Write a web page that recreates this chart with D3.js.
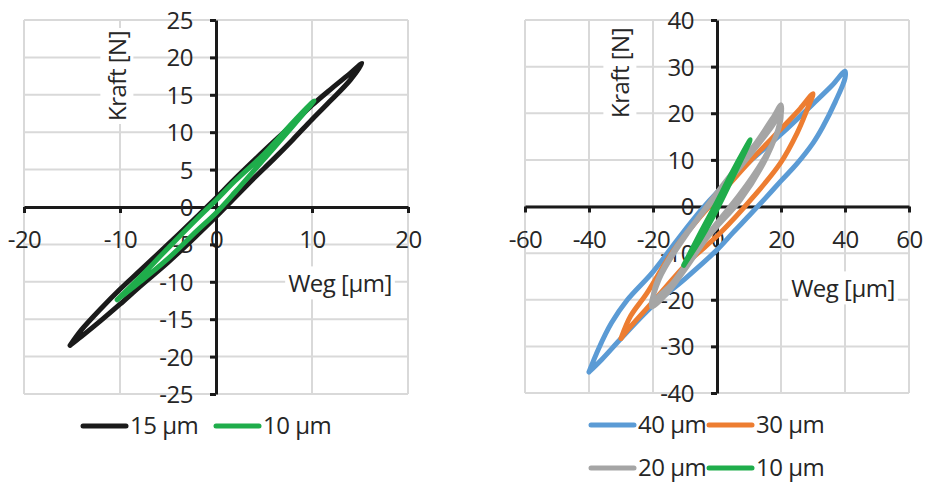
<!DOCTYPE html>
<html>
<head>
<meta charset="utf-8">
<script src="https://cdn.jsdelivr.net/npm/d3@7"></script>
<style>
  html, body { margin: 0; padding: 0; background: #fff; }
  svg { display: block; font-family: "Open Sans", "Noto Sans", sans-serif; }
  .tick text { font-size: 24px; fill: #262626; }
</style>
</head>
<body>
<svg id="chart" width="927" height="483"></svg>
<script>
// ---- Left panel: 15 µm and 10 µm hysteresis loops ----
const leftXTicks = [-20, -10, 0, 10, 20];
const leftYTicks = [-25, -20, -15, -10, -5, 0, 5, 10, 15, 20, 25];

// loops as [Weg µm, Kraft N], rising branch then falling branch
const loop15 = [
  [-15.2, -18.5], [-14, -16.4], [-12, -13.6], [-10, -11.0], [-8, -8.6], [-5, -5.0],
  [-2, -1.3], [0, 1.2], [2, 3.8], [5, 7.5], [8, 11.1], [10, 13.6], [12, 15.8],
  [14, 17.9], [15.2, 19.2],
  [14, 17.0], [12, 14.3], [10, 11.7], [8, 9.0], [6, 6.4], [4, 3.9], [2, 1.3],
  [0, -1.3], [-2, -3.8], [-5, -7.4], [-8, -10.7], [-10, -13.0], [-12, -15.2],
  [-14, -17.3], [-15.2, -18.5]
];
const loop10L = [
  [-10.3, -12.4], [-8, -9.5], [-5, -5.5], [-2, -1.6], [0, 0.9], [2, 3.5], [5, 7.1],
  [8, 11.3], [10.2, 14.2],
  [8, 10.8], [5, 6.4], [2, 2.0], [0, -0.8], [-2, -3.2], [-5, -6.9], [-8, -10.1],
  [-10.3, -12.4]
];

// ---- Right panel: 40, 30, 20 and 10 µm hysteresis loops ----
const rightXTicks = [-60, -40, -20, 0, 20, 40, 60];
const rightYTicks = [-40, -30, -20, -10, 0, 10, 20, 30, 40];

const loop40 = [
  [-40, -35.5], [-37, -30.5], [-33, -25], [-28, -20], [-20, -14], [-12, -6.8],
  [-5, -0.8], [0, 3], [10, 9.5], [20, 15.5], [30, 22], [36, 26], [40, 29],
  [40, 27.5], [37, 22.5], [33, 17], [30, 13.6], [25, 9.2], [20, 5.5], [15, 1.7],
  [10, -2], [5, -5.6], [0, -9.3], [-10, -15.5], [-20, -21.2], [-30, -28.3],
  [-36, -32.8], [-40, -35.5]
];
const loop30 = [
  [-30, -28.3], [-27, -23.5], [-22, -18.7], [-13.6, -9.4], [-5, -2], [0, 1.8],
  [10, 9.5], [20.8, 17.2], [26, 21], [30, 24.2],
  [28, 20.5], [25, 15.7], [19.8, 9.3], [11.4, 2.1], [1, -5.7], [-9.4, -12.2],
  [-18.7, -19.4], [-28.1, -26.6], [-30, -28.3]
];
const loop20 = [
  [-20.4, -21.5], [-19, -16.5], [-13.6, -9.6], [-6, -2.5], [0, 3], [6, 8.3],
  [11.4, 12.9], [17.7, 19.3], [20, 21.8],
  [19.6, 18], [15.6, 10.7], [7.3, 1.4], [0, -4.3], [-3.2, -6.8], [-10, -13.5],
  [-15.6, -18.6], [-20.4, -21.5],
  [-18, -15.5], [-12, -8.5], [-5, -1.8], [0, 2.2], [6, 7.4], [12, 12.5], [17, 17],
  [20, 20],
  [19, 16], [14, 9.5], [7, 2.5], [0, -3.5], [-7, -9.8], [-14, -16.5],
  [-18.5, -19.5], [-20.4, -21.5]
];
const loop10R = [
  [-10.4, -12.6], [-5, -5.4], [0, 1.0], [5, 7.7], [10.4, 14.3],
  [5, 6.4], [0, -0.6], [-5, -6.8], [-10.4, -12.6]
];

const leftSeries = [
  { name: "15 µm", color: "#1a1a1a", data: loop15 },
  { name: "10 µm", color: "#1fad4b", data: loop10L }
];
const rightSeries = [
  { name: "40 µm", color: "#5b9bd5", data: loop40 },
  { name: "30 µm", color: "#ed7d31", data: loop30 },
  { name: "20 µm", color: "#a5a5a5", data: loop20 },
  { name: "10 µm", color: "#1fad4b", data: loop10R }
];

const svg = d3.select("#chart");
const ink = "#1a1a1a";
const gridColor = "#d9d9d9";

function panel(cfg) {
  const x = d3.scaleLinear().domain(cfg.xDomain).range(cfg.xRange);
  const y = d3.scaleLinear().domain(cfg.yDomain).range(cfg.yRange);
  const g = svg.append("g");

  // gridlines
  g.append("g").selectAll("line.v").data(cfg.xTicks).join("line")
    .attr("x1", d => x(d)).attr("x2", d => x(d))
    .attr("y1", cfg.yRange[1]).attr("y2", cfg.yRange[0])
    .attr("stroke", gridColor).attr("stroke-width", 2);
  g.append("g").selectAll("line.h").data(cfg.yTicks).join("line")
    .attr("x1", cfg.xRange[0]).attr("x2", cfg.xRange[1])
    .attr("y1", d => y(d)).attr("y2", d => y(d))
    .attr("stroke", gridColor).attr("stroke-width", 2);

  // axes crossing at the origin
  const xAxis = d3.axisBottom(x).tickValues(cfg.xTicks).tickFormat(d => String(d))
    .tickSizeInner(6).tickSizeOuter(0).tickPadding(18);
  const yAxis = d3.axisLeft(y).tickValues(cfg.yTicks).tickFormat(d => String(d))
    .tickSizeInner(6).tickSizeOuter(0).tickPadding(17);

  const gx = g.append("g").attr("transform", `translate(0,${y(0)})`).call(xAxis);
  const gy = g.append("g").attr("transform", `translate(${x(0)},0)`).call(yAxis);
  [gx, gy].forEach(a => {
    a.select(".domain").attr("stroke", ink).attr("stroke-width", 3);
    a.selectAll(".tick line").attr("stroke", ink).attr("stroke-width", 3);
    a.selectAll(".tick text").attr("fill", "#262626").style("font-size", "24px")
      .style("font-family", "'Open Sans', sans-serif").attr("letter-spacing", "-0.5");
  });
  gy.selectAll(".tick text").attr("dy", "0.35em");

  // axis titles on white boxes
  function title(text, cx, cy, rotate) {
    const t = g.append("g").attr("transform", `translate(${cx},${cy}) rotate(${rotate})`);
    const rect = t.append("rect").attr("fill", "#fff");
    const txt = t.append("text").text(text).attr("text-anchor", "middle")
      .attr("dy", "0.35em").attr("fill", "#262626")
      .style("font-size", "24px").attr("letter-spacing", "-0.5");
    const b = txt.node().getBBox();
    rect.attr("x", b.x - 3).attr("y", b.y).attr("width", b.width + 6).attr("height", b.height);
  }
  title("Kraft [N]", cfg.yTitle[0], cfg.yTitle[1], -90);
  title("Weg [µm]", cfg.xTitle[0], cfg.xTitle[1], 0);

  // loops
  const line = d3.line().x(d => x(d[0])).y(d => y(d[1]))
    .curve(d3.curveCatmullRom.alpha(0.5));
  g.append("g").selectAll("path").data(cfg.series).join("path")
    .attr("d", d => line(d.data))
    .attr("fill", "none").attr("stroke", d => d.color)
    .attr("stroke-width", 5).attr("stroke-linejoin", "round").attr("stroke-linecap", "round");

  // legend
  const lg = g.append("g");
  cfg.series.forEach((s, i) => {
    const p = cfg.legend[i];
    lg.append("line").attr("x1", p[0]).attr("x2", p[0] + 43).attr("y1", p[1]).attr("y2", p[1])
      .attr("stroke", s.color).attr("stroke-width", 5).attr("stroke-linecap", "round");
    lg.append("text").text(s.name).attr("x", p[0] + 47).attr("y", p[1]).attr("dy", "0.35em")
      .attr("fill", "#262626").style("font-size", "24px").attr("letter-spacing", "-0.5");
  });
}

panel({
  xDomain: [-20, 20], xRange: [24, 408],
  yDomain: [-25, 25], yRange: [394, 20],
  xTicks: leftXTicks, yTicks: leftYTicks,
  yTitle: [118, 76], xTitle: [340, 284],
  series: leftSeries,
  legend: [[83, 426], [216, 426]]
});

panel({
  xDomain: [-60, 60], xRange: [525, 909],
  yDomain: [-40, 40], yRange: [393, 20],
  xTicks: rightXTicks, yTicks: rightYTicks,
  yTitle: [621, 73], xTitle: [843, 289],
  series: rightSeries,
  legend: [[591, 425], [709, 425], [591, 468], [709, 468]]
});
</script>
</body>
</html>
